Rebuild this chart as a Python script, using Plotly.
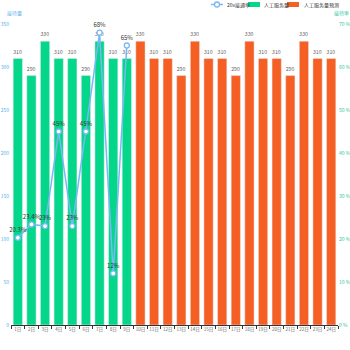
import plotly.graph_objects as go

days = [f"{i}日" for i in range(1, 25)]
served = [310, 290, 330, 310, 310, 290, 330, 310, 310]
forecast = [330, 310, 310, 290, 330, 310, 310, 290, 330, 310, 310, 290, 330, 310, 310]
rate = [20.3, 23.4, 23, 45, 23, 45, 68, 12, 65]
rate_labels = ["20.3%", "23.4%", "23%", "45%", "23%", "45%", "68%", "12%", "65%"]
legend_names = ["20s接通率", "人工服务量", "人工服务量预测"]

FONT = "Noto Sans CJK SC"
GREEN = "#04D68A"
ORANGE = "#F55F24"
BLUE = "#78B9F5"

W, H = 350, 350
L, R, T, B = 11, 12, 24, 25
PW, PH = W - L - R, H - T - B


def px(x):
    return (x - L) / PW


def py(y):
    return (H - B - y) / PH


served_full = served + [None] * (len(days) - len(served))
forecast_full = [None] * len(served) + forecast
rate_full = rate + [None] * (len(days) - len(rate))
rate_text = rate_labels + [""] * (len(days) - len(rate))

fig = go.Figure()
fig.add_trace(go.Bar(
    x=days, y=served_full, name=legend_names[1], marker_color=GREEN,
    text=[str(v) if v is not None else "" for v in served_full],
    textposition="outside", cliponaxis=False,
    textfont=dict(size=6, color="#666666", family=FONT),
))
fig.add_trace(go.Bar(
    x=days, y=forecast_full, name=legend_names[2], marker_color=ORANGE,
    text=[str(v) if v is not None else "" for v in forecast_full],
    textposition="outside", cliponaxis=False,
    textfont=dict(size=6, color="#666666", family=FONT),
))
fig.add_trace(go.Scatter(
    x=days, y=rate_full, name=legend_names[0], yaxis="y2",
    mode="lines+markers+text", text=rate_text, textposition="top center",
    textfont=dict(size=6, color="#333333", family=FONT),
    line=dict(color=BLUE, width=1.5),
    marker=dict(symbol="circle", size=5, color="white", line=dict(color=BLUE, width=1.3)),
    cliponaxis=False,
))

fig.update_layout(
    width=W, height=H,
    margin=dict(l=L, r=R, t=T, b=B, autoexpand=False),
    paper_bgcolor="white", plot_bgcolor="white",
    font=dict(family=FONT, size=6, color="#666666"),
    barmode="overlay", bargap=0.32,
    showlegend=False,
    xaxis=dict(range=[-0.5, len(days) - 0.5], showgrid=False, showline=True,
               linecolor="#333333", linewidth=1,
               ticks="outside", ticklen=3, tickcolor="#333333", tickson="boundaries",
               tickangle=0, automargin=False,
               tickfont=dict(size=4.5, color="#666666")),
    yaxis=dict(range=[0, 350], dtick=50, showgrid=False, showline=False, zeroline=False,
               automargin=False,
               tickfont=dict(size=5, color="#5AB1EF"), ticklabelstandoff=1),
    yaxis2=dict(range=[0, 70], dtick=10, overlaying="y", side="right", showgrid=False,
                zeroline=False, showline=False, ticksuffix=" %", automargin=False,
                tickfont=dict(size=5, color="#2EC7A0")),
)

# axis names
fig.add_annotation(text="接待量", x=px(5), y=py(13), xref="paper", yref="paper", showarrow=False,
                   font=dict(size=5, color="#5AB1EF"), xanchor="left", yanchor="middle")
fig.add_annotation(text="接待率", x=px(332), y=py(13), xref="paper", yref="paper", showarrow=False,
                   font=dict(size=5, color="#2EC7A0"), xanchor="left", yanchor="middle")

# manual legend
ly = py(4.5)
fig.add_shape(type="line", xref="paper", yref="paper", x0=px(211), x1=px(223), y0=ly, y1=ly,
              line=dict(color=BLUE, width=1.5))
fig.add_shape(type="circle", xref="paper", yref="paper", x0=px(214.5), x1=px(219.5),
              y0=py(7), y1=py(2), line=dict(color=BLUE, width=1.3), fillcolor="white")
fig.add_annotation(text=legend_names[0], x=px(224.5), y=ly, xref="paper", yref="paper",
                   showarrow=False, xanchor="left", yanchor="middle",
                   font=dict(size=5, color="#333333"))
fig.add_shape(type="rect", xref="paper", yref="paper", x0=px(248), x1=px(260),
              y0=py(7), y1=py(2), line=dict(width=0), fillcolor=GREEN)
fig.add_annotation(text=legend_names[1], x=px(261.5), y=ly, xref="paper", yref="paper",
                   showarrow=False, xanchor="left", yanchor="middle",
                   font=dict(size=5, color="#333333"))
fig.add_shape(type="rect", xref="paper", yref="paper", x0=px(287), x1=px(299),
              y0=py(7), y1=py(2), line=dict(width=0), fillcolor=ORANGE)
fig.add_annotation(text=legend_names[2], x=px(301.5), y=ly, xref="paper", yref="paper",
                   showarrow=False, xanchor="left", yanchor="middle",
                   font=dict(size=5, color="#333333"))

fig.write_html("out.html")
